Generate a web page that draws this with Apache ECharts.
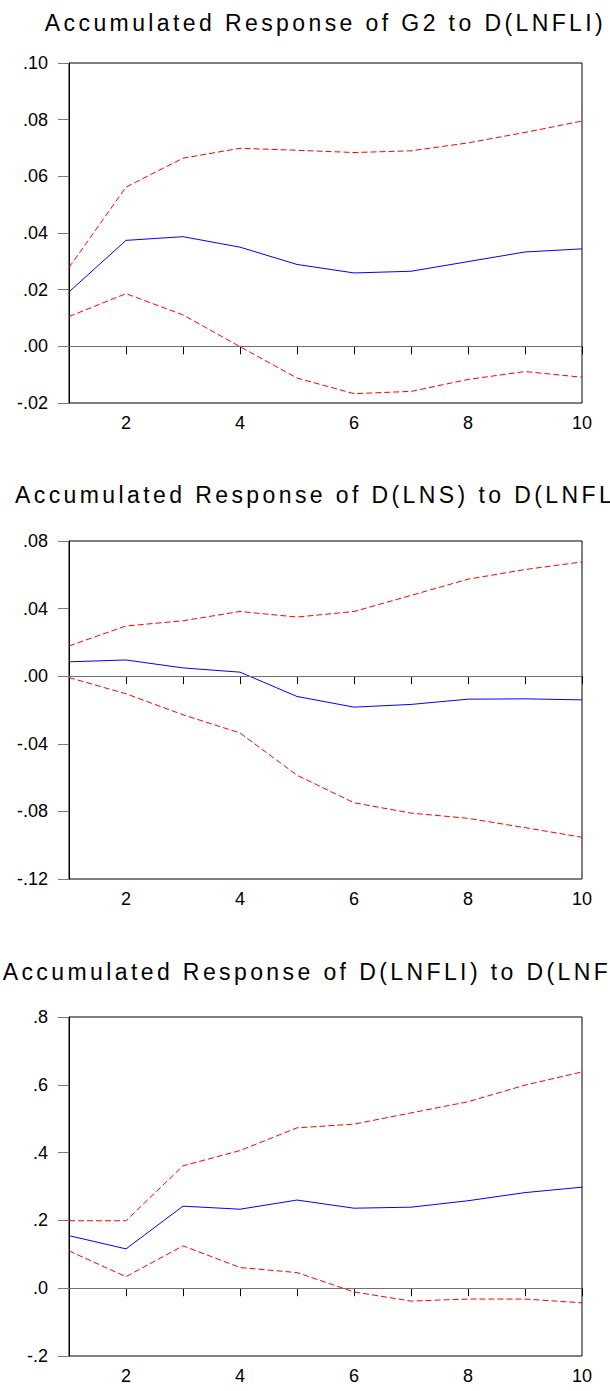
<!DOCTYPE html>
<html>
<head>
<meta charset="utf-8">
<script src="https://cdn.jsdelivr.net/npm/echarts@6/dist/echarts.min.js"></script>
<style>
  html, body { margin: 0; padding: 0; background: #fff; }
  #chart { width: 610px; height: 1391px; }
  #chart text[style*="Liberation Sans"] { letter-spacing: 3.4px; }
</style>
</head>
<body>
<div id="chart"></div>
<script>
// ---- data ----
const periods = ['1','2','3','4','5','6','7','8','9','10'];

const titles = [
  'Accumulated Response of G2 to D(LNFLI)',
  'Accumulated Response of D(LNS) to D(LNFLI)',
  'Accumulated Response of D(LNFLI) to D(LNFLI)'
];

// Panel 1: G2
const g2Resp  = [0.0192, 0.0374, 0.0387, 0.0350, 0.0289, 0.0259, 0.0265, 0.0299, 0.0333, 0.0344];
const g2Upper = [0.0278, 0.0562, 0.0664, 0.0699, 0.0692, 0.0684, 0.0690, 0.0718, 0.0755, 0.0795];
const g2Lower = [0.0105, 0.0186, 0.0111, -0.0001, -0.0112, -0.0167, -0.0159, -0.0117, -0.0089, -0.0109];

// Panel 2: D(LNS)
const lnsResp  = [0.0085, 0.0096, 0.0049, 0.0024, -0.0120, -0.0183, -0.0167, -0.0136, -0.0134, -0.0140];
const lnsUpper = [0.0179, 0.0297, 0.0328, 0.0383, 0.0350, 0.0383, 0.0478, 0.0574, 0.0631, 0.0676];
const lnsLower = [-0.0008, -0.0104, -0.0228, -0.0336, -0.0586, -0.0749, -0.0810, -0.0841, -0.0896, -0.0953];

// Panel 3: D(LNFLI)
const fliResp  = [0.155, 0.116, 0.242, 0.233, 0.260, 0.236, 0.239, 0.258, 0.282, 0.298];
const fliUpper = [0.199, 0.199, 0.361, 0.406, 0.473, 0.484, 0.517, 0.550, 0.599, 0.638];
const fliLower = [0.110, 0.034, 0.125, 0.061, 0.046, -0.011, -0.038, -0.032, -0.032, -0.043];

// y-axis scales: [min, max, interval, decimals]
const yScales = [
  [-0.02, 0.10, 0.02, 2],
  [-0.12, 0.08, 0.04, 2],
  [-0.2, 0.8, 0.2, 1]
];

const panels = [
  [g2Resp, g2Upper, g2Lower],
  [lnsResp, lnsUpper, lnsLower],
  [fliResp, fliUpper, fliLower]
];

// ---- layout ----
const gridTops = [63, 541, 1017];
const gridHeights = [340, 338, 339];
const titleTops = [11.5, 483.5, 960.5];

function fmt(dec) {
  return function (v) {
    const s = Math.abs(v).toFixed(dec).replace(/^0/, '');
    return (v < -1e-9 ? '-' : '') + s;
  };
}

const option = {
  animation: false,
  backgroundColor: '#fff',
  title: titles.map((t, i) => ({
    text: t,
    left: 325.5,
    top: titleTops[i],
    textAlign: 'center',
    padding: 0,
    textStyle: {
      fontFamily: 'Liberation Sans',
      fontSize: 23,
      lineHeight: 23,
      fontWeight: 'normal',
      color: '#000'
    }
  })),
  grid: gridTops.map((t, i) => ({
    left: 69, right: 28, top: t, height: gridHeights[i],
    show: true, borderColor: '#000', borderWidth: 1, backgroundColor: 'transparent'
  })),
  xAxis: gridTops.map((t, i) => ({
    type: 'category',
    gridIndex: i,
    data: periods,
    boundaryGap: false,
    axisLine: { show: true, lineStyle: { color: '#000', width: 1 } },
    axisTick: { show: true, inside: false, length: 8, interval: 0, lineStyle: { color: '#000' } },
    axisLabel: {
      interval: (idx) => idx % 2 === 1,
      margin: 11,
      fontFamily: 'Arial',
      fontSize: 18,
      color: '#000'
    },
    splitLine: { show: false }
  })),
  yAxis: yScales.map((s, i) => ({
    type: 'value',
    gridIndex: i,
    min: s[0], max: s[1], interval: s[2],
    axisLine: { show: true, lineStyle: { color: '#000', width: 1 } },
    axisTick: { show: true, inside: false, length: 11, lineStyle: { color: '#777' } },
    axisLabel: {
      formatter: fmt(s[3]),
      margin: 21,
      fontFamily: 'Arial',
      fontSize: 18,
      color: '#000'
    },
    splitLine: { show: false }
  })),
  series: []
};

panels.forEach((p, i) => {
  option.series.push({
    type: 'line', xAxisIndex: i, yAxisIndex: i, data: p[0],
    showSymbol: false, symbol: 'none', silent: true,
    lineStyle: { color: '#0000ff', width: 1 },
    markLine: {
      silent: true, symbol: ['none', 'none'], label: { show: false },
      lineStyle: { color: '#707070', width: 1, type: 'solid' },
      data: [{ yAxis: 0 }]
    },
    z: 3
  });
  [p[1], p[2]].forEach(d => {
    option.series.push({
      type: 'line', xAxisIndex: i, yAxisIndex: i, data: d,
      showSymbol: false, symbol: 'none', silent: true,
      lineStyle: { color: '#ff0000', width: 1, type: [6, 3] },
      z: 2
    });
  });
});

const chart = echarts.init(document.getElementById('chart'), null, { renderer: 'svg' });
chart.setOption(option);
</script>
</body>
</html>
